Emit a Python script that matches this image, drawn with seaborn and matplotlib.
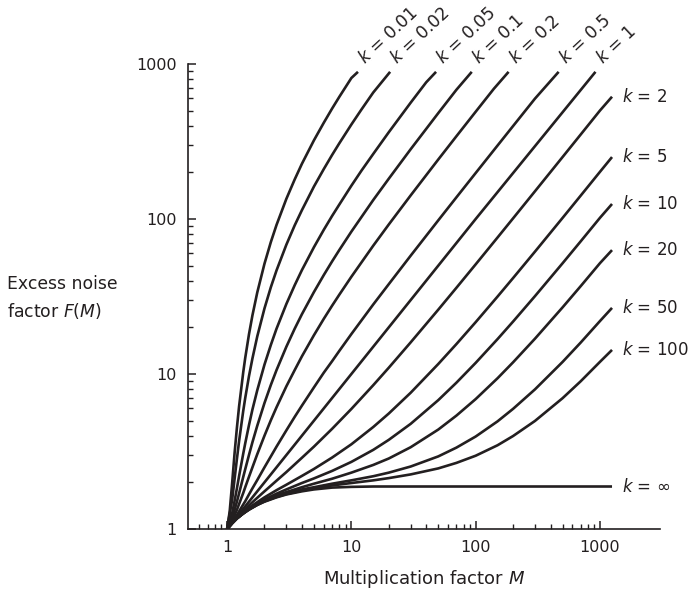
import matplotlib
matplotlib.use("Agg")
import numpy as np
import pandas as pd
import seaborn as sns
import matplotlib.pyplot as plt
from matplotlib.ticker import FixedLocator, FixedFormatter, NullFormatter

# ---------------- data ----------------
M_k001 = [1, 1.05, 1.1, 1.15, 1.2, 1.25, 1.35, 1.4, 1.5, 1.6, 1.75, 2, 2.25, 2.5,
          3, 3.5, 4, 5, 6, 7, 8, 10, 11.3]
F_k001 = [1, 1.3, 2.0, 3.1, 4.5, 6.2, 10.3, 12.7, 18, 23.9, 33.6, 51.5, 71, 91.6,
          135, 180, 227, 322, 418, 516, 614, 812, 890]

M_k002 = [1, 1.1, 1.15, 1.2, 1.25, 1.35, 1.4, 1.5, 1.6, 1.75, 2, 2.25, 2.5, 3, 3.5,
          4, 5, 6, 7, 8, 10, 12, 15, 20.5]
F_k002 = [1, 1.55, 2.11, 2.83, 3.7, 5.8, 7.0, 9.67, 12.6, 17.5, 26.5, 36.3, 46.6,
          68.3, 91, 114, 162, 210, 259, 308, 407, 506, 655, 890]

M_k005 = [1, 1.1, 1.15, 1.2, 1.25, 1.35, 1.4, 1.5, 1.6, 1.75, 2, 2.25, 2.5, 3, 3.5,
          4, 5, 6, 7, 8, 10, 12, 15, 20, 30, 40, 48]
F_k005 = [1, 1.27, 1.52, 1.83, 2.2, 3.07, 3.57, 4.67, 5.9, 7.86, 11.5, 15.4, 19.6,
          28.3, 37.4, 46.8, 65.8, 85.2, 104.7, 124, 164, 204, 263, 363, 563, 762, 890]

M_k01 = [1, 1.1, 1.15, 1.2, 1.25, 1.35, 1.4, 1.5, 1.6, 1.75, 2, 2.25, 2.5, 3, 3.5,
         4, 5, 6, 7, 8, 10, 15, 20, 30, 50, 70, 93]
F_k01 = [1, 1.18, 1.33, 1.5, 1.7, 2.17, 2.43, 3.0, 3.63, 4.64, 6.5, 8.5, 10.6, 15,
         19.6, 24.3, 33.8, 43.5, 53.3, 63.1, 82.9, 132.6, 182, 282, 482, 682, 890]

M_k02 = [1, 1.1, 1.15, 1.2, 1.25, 1.35, 1.4, 1.5, 1.6, 1.75, 2, 2.25, 2.5, 3, 3.5,
         4, 5, 6, 7, 8, 10, 15, 20, 30, 50, 70, 100, 140, 184]
F_k02 = [1, 1.14, 1.23, 1.33, 1.45, 1.71, 1.86, 2.17, 2.5, 3.04, 4.0, 5.03, 6.1,
         8.33, 10.6, 13, 17.8, 22.7, 27.6, 32.5, 42.4, 67.3, 92.2, 142, 242, 342,
         492, 692, 890]

M_k05 = [1, 1.1, 1.15, 1.2, 1.25, 1.35, 1.4, 1.5, 1.6, 1.75, 2, 2.25, 2.5, 3, 3.5,
         4, 5, 6, 7, 8, 10, 15, 20, 30, 50, 70, 100, 150, 200, 300, 465]
F_k05 = [1, 1.11, 1.17, 1.23, 1.3, 1.44, 1.51, 1.67, 1.83, 2.07, 2.5, 2.94, 3.4,
         4.33, 5.29, 6.25, 8.2, 10.2, 12.1, 14.1, 18.1, 28.1, 38, 58, 98, 138, 198,
         298, 398, 598, 890]

M_k1 = [1, 10, 100, 920]
F_k1 = [1, 10, 100, 890]

M_right = [1, 1.1, 1.2, 1.35, 1.5, 1.75, 2, 2.5, 3, 4, 5, 7, 10, 15, 20, 30, 50,
           70, 100, 150, 200, 300, 500, 700, 1000, 1250]
F_k2 = [1, 1.10, 1.18, 1.30, 1.42, 1.59, 1.75, 2.05, 2.33, 2.88, 3.4, 4.43, 5.95,
        8.47, 10.98, 16, 26, 36, 51, 76, 101, 151, 251, 351, 501, 615]
F_k5 = [1, 1.09, 1.17, 1.28, 1.37, 1.49, 1.6, 1.78, 1.93, 2.2, 2.44, 2.89, 3.52,
        4.55, 5.56, 7.57, 11.6, 15.6, 21.6, 31.6, 41.6, 61.6, 101.6, 141.6, 201.6, 251]
F_k10 = [1, 1.09, 1.17, 1.27, 1.35, 1.46, 1.55, 1.69, 1.8, 1.98, 2.12, 2.37, 2.71,
         3.24, 3.76, 4.77, 6.78, 8.79, 11.8, 16.8, 21.8, 31.8, 51.8, 71.8, 101.8, 125]
F_k20 = [1, 1.09, 1.17, 1.26, 1.34, 1.44, 1.53, 1.65, 1.73, 1.86, 1.96, 2.11, 2.31,
         2.59, 2.85, 3.37, 4.38, 5.39, 6.89, 9.39, 11.9, 16.9, 26.9, 36.9, 51.9, 63]
F_k50 = [1, 1.09, 1.17, 1.26, 1.34, 1.44, 1.51, 1.62, 1.69, 1.80, 1.86, 1.96, 2.06,
         2.19, 2.31, 2.53, 2.94, 3.35, 3.95, 4.95, 5.96, 7.96, 11.96, 15.96, 21.96, 26.7]
F_k100 = [1, 1.09, 1.17, 1.26, 1.34, 1.43, 1.51, 1.61, 1.68, 1.77, 1.83, 1.91, 1.98,
          2.06, 2.13, 2.25, 2.46, 2.67, 2.97, 3.47, 3.98, 4.98, 6.98, 8.98, 11.98, 14.3]
F_kinf = [1, 1.09, 1.17, 1.26, 1.33, 1.43, 1.5, 1.6, 1.67, 1.75, 1.8, 1.85, 1.87,
          1.88, 1.88, 1.88, 1.88, 1.88, 1.88, 1.88, 1.88, 1.88, 1.88, 1.88, 1.88, 1.88]

top_labels = ["0.01", "0.02", "0.05", "0.1", "0.2", "0.5", "1"]
right_labels = ["2", "5", "10", "20", "50", "100", "\u221e"]

x_major = [1, 10, 100, 1000]
x_major_labels = ["1", "10", "100", "1000"]
y_major = [1, 10, 100, 1000]
y_major_labels = ["1", "10", "100", "1000"]

x_label = "Multiplication factor $M$"
y_label = "Excess noise\nfactor $F(M)$"

# ---------------- style ----------------
sns.set_theme(style="ticks")
plt.rcParams["font.family"] = ["DejaVu Sans"]
plt.rcParams["mathtext.fontset"] = "dejavusans"
INK = "#231f20"
FS = 11.5

fig = plt.figure(figsize=(6.94, 5.9), dpi=100)
ax = fig.add_axes([188 / 694, 1 - 529 / 590, (660 - 188) / 694, (529 - 64) / 590])

top_curves = [(M_k001, F_k001), (M_k002, F_k002), (M_k005, F_k005), (M_k01, F_k01),
              (M_k02, F_k02), (M_k05, F_k05), (M_k1, F_k1)]
right_curves = [F_k2, F_k5, F_k10, F_k20, F_k50, F_k100, F_kinf]

for (M, F) in top_curves:
    sns.lineplot(x=M, y=F, ax=ax, color=INK, lw=1.9, estimator=None, sort=False)
for F in right_curves:
    sns.lineplot(x=M_right, y=F, ax=ax, color=INK, lw=1.9, estimator=None, sort=False)
for ln in ax.get_lines():
    ln.set_solid_joinstyle("round")
    ln.set_solid_capstyle("butt")

ax.set_xscale("log")
ax.set_yscale("log")
ax.set_xlim(0.485, 3040)
ax.set_ylim(1, 1000)

# labels on the curves
for (M, F), lab in zip(top_curves, top_labels):
    ax.annotate(f"$k$ = {lab}", xy=(M[-1], F[-1]), xytext=(7, 3),
                textcoords="offset points", rotation=43, rotation_mode="anchor",
                ha="left", va="bottom", fontsize=12.3, color=INK)
for F, lab in zip(right_curves, right_labels):
    ax.annotate(f"$k$ = {lab}", xy=(M_right[-1], F[-1]), xytext=(7, 0),
                textcoords="offset points", ha="left", va="center",
                fontsize=12, color=INK)

# axes styling
sns.despine(ax=ax)
for s in ["left", "bottom"]:
    ax.spines[s].set_color(INK)
    ax.spines[s].set_linewidth(1.2)

x_minor = [d * m for d in [0.1, 1, 10, 100] for m in range(2, 10) if 0.5 < d * m < 1000]
y_minor = [d * m for d in [1, 10, 100] for m in range(2, 10)]
ax.xaxis.set_major_locator(FixedLocator(x_major))
ax.xaxis.set_major_formatter(FixedFormatter(x_major_labels))
ax.xaxis.set_minor_locator(FixedLocator(x_minor))
ax.xaxis.set_minor_formatter(NullFormatter())
ax.yaxis.set_major_locator(FixedLocator(y_major))
ax.yaxis.set_major_formatter(FixedFormatter(y_major_labels))
ax.yaxis.set_minor_locator(FixedLocator(y_minor))
ax.yaxis.set_minor_formatter(NullFormatter())
ax.tick_params(which="major", direction="in", length=6, width=1.1, color=INK,
               labelsize=FS, labelcolor=INK, pad=8)
ax.tick_params(which="minor", direction="in", length=3.5, width=1.0, color=INK)

ax.set_xlabel(x_label, fontsize=13, color=INK, labelpad=9)
ax.set_ylabel("")
fig.text(7 / 694, 1 - 298 / 590, y_label, fontsize=12.4, color=INK,
         ha="left", va="center", linespacing=1.45)

fig.savefig("out.png", dpi=100)
